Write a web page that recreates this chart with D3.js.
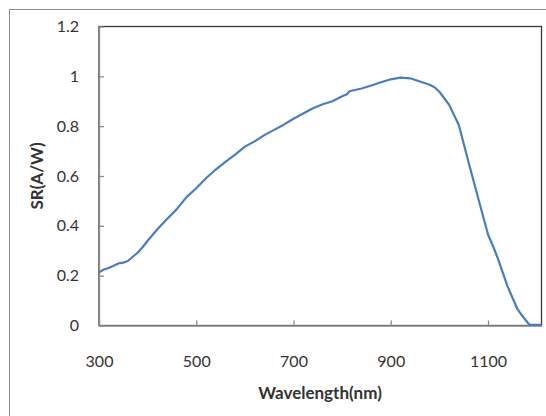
<!DOCTYPE html>
<html>
<head>
<meta charset="utf-8">
<script src="https://cdn.jsdelivr.net/npm/d3@7"></script>
<style>
  body { margin: 0; background: #fff; }
  text { font-family: Lato, "Open Sans", sans-serif; fill: #333; }
</style>
</head>
<body>
<div id="chart"></div>
<script>
// wavelength (nm) and spectral response (A/W)
var wavelength = [300, 310, 320, 330, 340, 350, 360, 370, 380, 390, 400, 420, 440, 460, 480,
  500, 520, 540, 560, 580, 600, 620, 640, 660, 680, 700, 720, 740, 760, 780, 800, 810, 815,
  840, 860, 880, 900, 920, 940, 960, 980, 990, 1000, 1010, 1020, 1040, 1060, 1080, 1100,
  1110, 1120, 1140, 1160, 1170, 1185, 1210];
var response = [0.213, 0.225, 0.231, 0.240, 0.249, 0.252, 0.260, 0.277, 0.293, 0.315, 0.340,
  0.386, 0.427, 0.467, 0.515, 0.551, 0.591, 0.626, 0.657, 0.686, 0.718, 0.739, 0.764, 0.785,
  0.806, 0.830, 0.851, 0.872, 0.888, 0.900, 0.920, 0.928, 0.940, 0.951, 0.963, 0.976, 0.988,
  0.995, 0.992, 0.979, 0.966, 0.956, 0.938, 0.912, 0.886, 0.805, 0.655, 0.510, 0.365,
  0.320, 0.270, 0.158, 0.068, 0.040, 0.003, 0.003];
var xTicks = [300, 500, 700, 900, 1100];
var yTicks = [0, 0.2, 0.4, 0.6, 0.8, 1, 1.2];

var W = 546, H = 416;
var margin = {top: 26.5, right: 4.5, bottom: 90.5, left: 99};
var width = W - margin.left - margin.right,
  height = H - margin.top - margin.bottom;

var svg = d3.select("#chart").append("svg")
  .attr("width", W)
  .attr("height", H);

// outer chart frame (runs off the picture on the right and bottom)
svg.append("rect")
  .attr("x", 9.5).attr("y", 9.5)
  .attr("width", 600).attr("height", 600)
  .attr("fill", "none")
  .attr("stroke", "#8c8c8c");

var g = svg.append("g")
  .attr("transform", "translate(" + margin.left + "," + margin.top + ")");

var x = d3.scaleLinear().domain([300, 1210]).range([0, width]);
var y = d3.scaleLinear().domain([0, 1.2]).range([height, 0]);

// plot area border
g.append("rect")
  .attr("width", width).attr("height", height)
  .attr("fill", "none")
  .attr("stroke", "#3a3a3a")
  .attr("stroke-width", 1.3);

g.append("g")
  .attr("class", "x axis")
  .attr("transform", "translate(0," + height + ")")
  .call(d3.axisBottom(x).tickValues(xTicks).tickSizeInner(-5).tickSizeOuter(0).tickPadding(30)
    .tickFormat(function(d) { return String(d); }));

g.append("g")
  .attr("class", "y axis")
  .call(d3.axisLeft(y).tickValues(yTicks).tickSizeInner(-5).tickSizeOuter(0).tickPadding(20)
    .tickFormat(function(d) { return String(+d.toFixed(1)); }));

g.selectAll(".axis path, .axis line").attr("stroke", "#8c8c8c").attr("stroke-width", 1.3);
g.selectAll(".axis text").style("font-size", "16px").attr("fill", "#333");

var line = d3.line()
  .x(function(d, i) { return x(wavelength[i]); })
  .y(function(d) { return y(d); });

g.append("path")
  .datum(response)
  .attr("fill", "none")
  .attr("stroke", "#4a7ebb")
  .attr("stroke-width", 2.2)
  .attr("stroke-linejoin", "round")
  .attr("d", line);

svg.append("text")
  .attr("x", 320)
  .attr("y", 399)
  .attr("text-anchor", "middle")
  .style("font-size", "17px")
  .style("font-weight", "bold")
  .text("Wavelength(nm)");

svg.append("text")
  .attr("transform", "translate(43,176) rotate(-90)")
  .attr("text-anchor", "middle")
  .style("font-size", "17px")
  .style("font-weight", "bold")
  .text("SR(A/W)");
</script>
</body>
</html>
